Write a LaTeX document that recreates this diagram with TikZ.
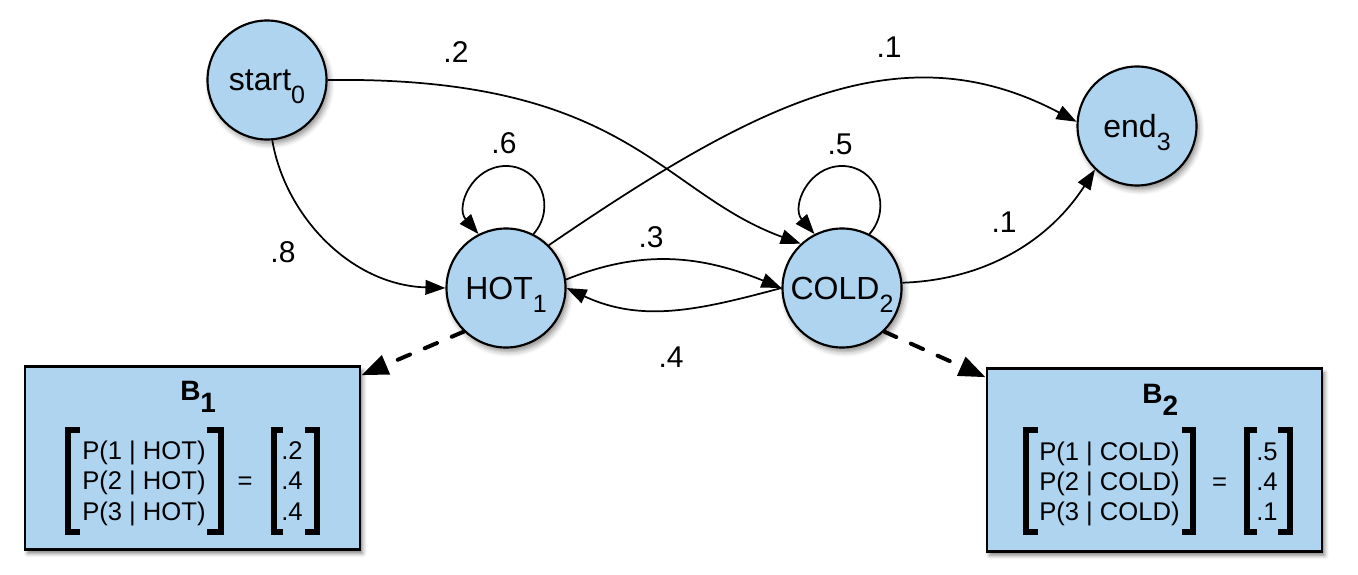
\documentclass[tikz,border=0pt]{standalone}
\usepackage{fontspec}
\setmainfont{Liberation Sans}
\usetikzlibrary{arrows.meta,calc,shadows.blur}
\definecolor{stateblue}{RGB}{174,212,240}
\newcommand\nsub[1]{\raisebox{-9.75pt}[0pt][0pt]{\fontsize{18.75}{20}\selectfont #1}}
\newcommand\bsub[1]{\raisebox{-9pt}[0pt][0pt]{#1}}
\begin{document}
\begin{tikzpicture}[x=0.75pt,y=-0.75pt,
  state/.style={circle, draw, line width=1.6pt, fill=stateblue, minimum size=89.25pt, inner sep=0pt,
    font=\fontsize{24}{28}\selectfont,
    blur shadow={shadow xshift=2pt, shadow yshift=-3pt, shadow blur radius=4pt, shadow opacity=45}},
  bbox/.style={draw, line width=2.2pt, fill=stateblue, minimum width=251.25pt, minimum height=137pt, inner sep=0pt,
    blur shadow={shadow xshift=2pt, shadow yshift=-3pt, shadow blur radius=3pt, shadow opacity=50}},
  trans/.style={line width=1.3pt, -{Triangle[length=15pt,width=11pt]}},
  dasharrow/.style={line width=3pt, line cap=round, dash pattern=on 10pt off 12pt, -{Triangle[length=20pt,width=15pt]}},
  prob/.style={font=\fontsize{22.5}{26}\selectfont, inner sep=0pt, anchor=base},
  rowtxt/.style={font=\fontsize{19.2}{21}\selectfont, inner sep=0pt, anchor=base west},
  eqtxt/.style={font=\fontsize{19.2}{21}\selectfont, inner sep=0pt, anchor=base},
  titletxt/.style={font=\bfseries\fontsize{21}{24}\selectfont, inner sep=0pt, anchor=base west},
  brk/.style={line width=4.5pt, line join=miter}
]
\useasboundingbox (0,0) rectangle (1358,574);

% boxes
\node[bbox] (B1) at (192.5,458) {};
\node[bbox] (B2) at (1154.5,460) {};

% states
\node[state] (start) at (267,80) {start\nsub{0}};
\node[state] (HOT) at (506,288) {HOT\nsub{1}};
\node[state] (COLD) at (842,288) {COLD\nsub{2}};
\node[state] (end) at (1137,126) {end\nsub{3}};

% transitions
\draw[trans] (start.-85) .. controls (285,215) and (350,285) .. (HOT.west);
\draw[trans] (start.east) .. controls (628,76) and (659,192) .. (COLD.133);
\draw[trans] (HOT.45) .. controls (757,103) and (901,29) .. (end.176);
\draw[trans] (HOT.8) to[out=22,in=158] (COLD.west);
\draw[trans] (COLD.west) to[out=195,in=-25] (HOT.east);
\draw[trans] (COLD.5) .. controls (985,280) and (1049,241) .. (end.226);
\foreach \s in {HOT,COLD}{
  \draw[trans] (\s.63) .. controls ($(\s)+(51,-81)$) and ($(\s)+(34,-122)$) .. ($(\s)+(0,-122)$)
     .. controls ($(\s)+(-34,-122)$) and ($(\s)+(-51,-81)$) .. (\s.117);
}

% emission arrows
\coordinate (B1tip) at ($(B1.north east)+(0,10)$);
\coordinate (B2tip) at ($(B2.north west)+(0,10)$);
\draw[dasharrow] (HOT.226) -- (B1tip);
\draw[dasharrow] (COLD.-46) -- (B2tip);

% labels
\node[prob] (p02) at (456,63) {.2};
\node[prob] (p11) at (504,153) {.6};
\node[prob] (p13) at (889,58) {.1};
\node[prob] (p22) at (840,155) {.5};
\node[prob] (p12) at (651,247) {.3};
\node[prob] (p21) at (671,367) {.4};
\node[prob] (p23) at (1004,232) {.1};
\node[prob] (p01) at (283,262) {.8};

% B1 contents
\node[titletxt] (B1t) at (180,400) {B\bsub{1}};
\node[rowtxt] (B1a) at (82,459) {P(1 | HOT)};
\node[rowtxt] (B1b) at (82,489.5) {P(2 | HOT)};
\node[rowtxt] (B1c) at (82,520) {P(3 | HOT)};
\node[eqtxt] (B1eq) at (245,489.5) {=};
\node[rowtxt] (B1v1) at (281,459) {.2};
\node[rowtxt] (B1v2) at (281,489.5) {.4};
\node[rowtxt] (B1v3) at (281,520) {.4};
\draw[brk] (80,430) -- (68,430) -- (68,532) -- (80,532);
\draw[brk] (207,430) -- (220.5,430) -- (220.5,532) -- (207,532);
\draw[brk] (283,430) -- (273.5,430) -- (273.5,532) -- (283,532);
\draw[brk] (305,430) -- (316.5,430) -- (316.5,532) -- (305,532);

% B2 contents
\node[titletxt] (B2t) at (1142,403) {B\bsub{2}};
\node[rowtxt] (B2a) at (1039,460) {P(1 | COLD)};
\node[rowtxt] (B2b) at (1039,490) {P(2 | COLD)};
\node[rowtxt] (B2c) at (1039,520) {P(3 | COLD)};
\node[eqtxt] (B2eq) at (1219.5,490) {=};
\node[rowtxt] (B2v1) at (1256,460) {.5};
\node[rowtxt] (B2v2) at (1256,490) {.4};
\node[rowtxt] (B2v3) at (1256,520) {.1};
\draw[brk] (1038,430) -- (1025.5,430) -- (1025.5,532) -- (1038,532);
\draw[brk] (1182,430) -- (1193,430) -- (1193,532) -- (1182,532);
\draw[brk] (1257,430) -- (1247,430) -- (1247,532) -- (1257,532);
\draw[brk] (1278,430) -- (1290,430) -- (1290,532) -- (1278,532);
\end{tikzpicture}
\end{document}
